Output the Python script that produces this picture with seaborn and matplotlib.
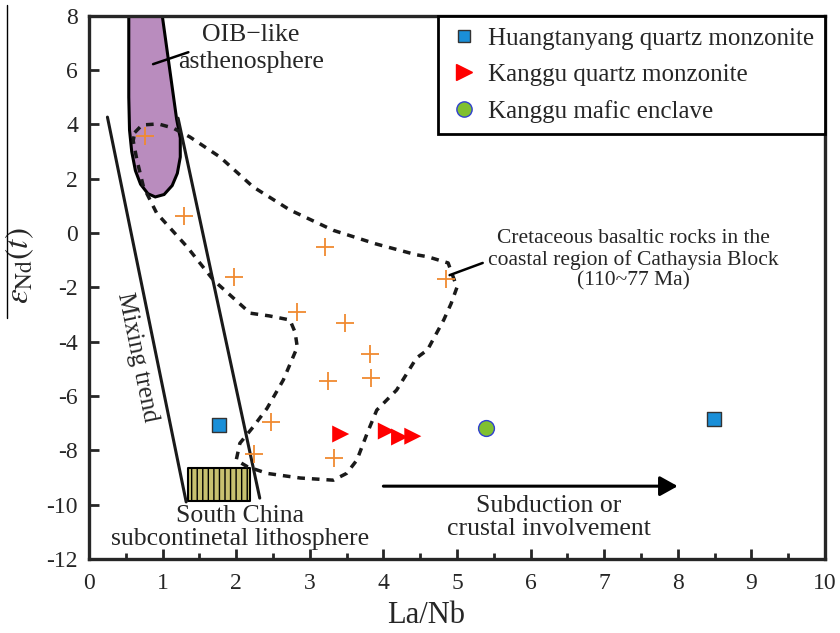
import matplotlib
matplotlib.use("Agg")
import matplotlib.pyplot as plt
import seaborn as sns
import pandas as pd
from matplotlib.lines import Line2D

# Cretaceous basaltic rocks (orange crosses)
cret_lanb = [0.76, 1.29, 1.97, 2.83, 3.21, 3.48, 4.85, 3.82, 3.83, 3.25, 2.47, 2.24, 3.33]
cret_end = [3.57, 0.63, -1.62, -2.9, -0.52, -3.3, -1.7, -4.46, -5.35, -5.45, -6.96, -8.14, -8.29]

# samples
huang_lanb = [1.77, 8.49]
huang_end = [-7.07, -6.85]
kang_lanb = [3.42, 4.04, 4.22, 4.40]
kang_end = [-7.40, -7.29, -7.51, -7.48]
encl_lanb = [5.39]
encl_end = [-7.18]

# OIB-like asthenosphere field
oib_x = [0.54, 0.54, 0.55, 0.58, 0.63, 0.70, 0.80, 0.90, 1.02, 1.13, 1.20, 1.24, 1.24, 1.19, 0.98]
oib_y = [8.3, 5.0, 3.8, 3.0, 2.3, 1.8, 1.45, 1.33, 1.42, 1.75, 2.2, 2.8, 3.5, 4.2, 8.3]

# Cretaceous basalt field (dashed)
field_x = [0.62, 0.72, 0.94, 1.14, 1.37, 1.78, 2.23, 2.73, 3.32, 3.9, 4.45, 4.6, 4.88, 5.0, 4.92,
           4.82, 4.6, 4.45, 4.18, 3.91, 3.78, 3.64, 3.5, 3.32, 2.87, 2.42, 2.15, 2.0, 2.05, 2.23,
           2.42, 2.64, 2.83, 2.8, 2.73, 2.45, 2.19, 1.69, 1.33, 0.92, 0.74, 0.65, 0.6, 0.62]
field_y = [3.7, 3.98, 4.02, 3.87, 3.54, 2.8, 1.7, 0.85, 0.1, -0.4, -0.8, -0.87, -1.1, -2.0, -2.6,
           -3.2, -4.3, -4.6, -5.78, -6.52, -7.37, -8.36, -8.85, -9.1, -9.02, -8.85, -8.6, -8.36, -7.74, -7.14,
           -6.45, -5.41, -4.2, -3.65, -3.2, -3.05, -2.95, -1.73, -0.5, 0.73, 1.7, 2.7, 3.4, 3.7]

# mixing trend lines
mix1_x = [0.25, 1.32]
mix1_y = [4.27, -9.9]
mix2_x = [1.21, 2.32]
mix2_y = [4.23, -9.76]

# South China subcontinental lithosphere box
sc_x = [1.35, 2.19]
sc_y = [-9.88, -8.65]

sns.set_style("ticks")
plt.rcParams["font.family"] = ["Liberation Serif", "DejaVu Serif"]
plt.rcParams["mathtext.fontset"] = "stix"
plt.rcParams["axes.unicode_minus"] = False
plt.rcParams["hatch.linewidth"] = 1.0

fig = plt.figure(figsize=(8.4, 6.33), dpi=100)
ax = fig.add_axes([0.106, 0.117, 0.876, 0.858])

# fields
ax.fill(oib_x, oib_y, facecolor="#b98cbe", edgecolor="black", lw=2.2, zorder=2)
ax.plot(field_x, field_y, color="#1a1a1a", lw=2.5, linestyle=(0, (2.2, 2.0)), zorder=3)
ax.plot(mix1_x, mix1_y, color="#1a1a1a", lw=2.2, zorder=3)
ax.plot(mix2_x, mix2_y, color="#1a1a1a", lw=2.2, zorder=3)
ax.fill_between(sc_x, sc_y[0], sc_y[1], facecolor="#c8c170", edgecolor="black",
                hatch="|||", lw=1.5, zorder=2)

# points
cret = pd.DataFrame({"La/Nb": cret_lanb, "eNd": cret_end})
sns.scatterplot(data=cret, x="La/Nb", y="eNd", marker="+", color="#f08a30", s=150,
                linewidth=1.3, ax=ax, zorder=4)
sns.scatterplot(x=huang_lanb, y=huang_end, marker="s", color="#1a8fd8", edgecolor="#333333",
                s=110, linewidth=1.0, ax=ax, zorder=5)
sns.scatterplot(x=kang_lanb, y=kang_end, marker=">", color="#ff0000", edgecolor="none",
                s=150, ax=ax, zorder=5)
sns.scatterplot(x=encl_lanb, y=encl_end, marker="o", color="#80c030", edgecolor="#3040d0",
                s=130, linewidth=1.0, ax=ax, zorder=5)

# annotations
ax.plot([0.87, 1.35], [6.22, 6.66], color="black", lw=1.8, zorder=4)
ax.text(2.2, 6.8, "OIB\u2212like\nasthenosphere", fontsize=18.5, ha="center", va="center",
        linespacing=1.25)
ax.plot([4.9, 5.35], [-1.55, -1.1], color="black", lw=1.8, zorder=4)
ax.text(7.4, -0.98, "Cretaceous basaltic rocks in the\ncoastal region of Cathaysia Block\n(110~77 Ma)",
        fontsize=15.5, ha="center", va="center", linespacing=1.1)
ax.text(0.65, -4.57, "Mixing trend", fontsize=18, rotation=-78.4, rotation_mode="anchor",
        ha="center", va="center")
ax.text(2.05, -10.85, "South China\nsubcontinetal lithosphere", fontsize=18.5, ha="center",
        va="center", linespacing=1.05)
ax.annotate("", xy=(8.0, -9.32), xytext=(4.0, -9.32),
            arrowprops=dict(arrowstyle="-|>,head_length=0.45,head_width=0.25", lw=2.2,
                            color="black", mutation_scale=24, shrinkA=0, shrinkB=0))
ax.text(6.25, -10.48, "Subduction or\ncrustal involvement", fontsize=18.5, ha="center",
        va="center", linespacing=1.05)

# legend
handles = [
    Line2D([], [], marker="s", ls="none", markerfacecolor="#1a8fd8", markeredgecolor="#333333",
           markersize=9, label="Huangtanyang quartz monzonite"),
    Line2D([], [], marker=">", ls="none", markerfacecolor="#ff0000", markeredgecolor="#ff0000",
           markersize=11, label="Kanggu quartz monzonite"),
    Line2D([], [], marker="o", ls="none", markerfacecolor="#80c030", markeredgecolor="#3040d0",
           markersize=11, label="Kanggu mafic enclave"),
]
leg = ax.legend(handles=handles, loc="upper right", borderaxespad=0, fontsize=18,
                frameon=True, fancybox=False, handlelength=1.2, handletextpad=0.35,
                borderpad=0.45, labelspacing=0.55)
leg.get_frame().set_edgecolor("black")
leg.get_frame().set_linewidth(2.0)
leg.get_frame().set_alpha(1)

# axes
ax.set_xlim(0, 10)
ax.set_ylim(-12, 8)
ax.set_xticks(range(0, 11))
ax.set_xticks([i + 0.5 for i in range(10)], minor=True)
ax.set_yticks(range(-12, 9, 2))
ax.tick_params(axis="both", which="major", direction="in", length=7, width=2, labelsize=17)
ax.tick_params(axis="x", which="major", pad=10)
ax.tick_params(axis="y", which="major", pad=8)
ax.tick_params(axis="x", which="minor", direction="in", length=4, width=2)
for sp in ax.spines.values():
    sp.set_linewidth(2.4)
    sp.set_visible(True)

ax.set_xlabel("La/Nb", fontsize=22)
ax.xaxis.set_label_coords(0.458, -0.078)
ax.set_ylabel(r"$\varepsilon_{\rm Nd}(t)$", fontsize=24)
ax.yaxis.set_label_coords(-0.072, 0.54)

fig.add_artist(Line2D([7 / 840, 7 / 840], [1 - 5 / 633, 1 - 318 / 633], color="black", lw=1.0))

fig.savefig("out.png", dpi=100)
